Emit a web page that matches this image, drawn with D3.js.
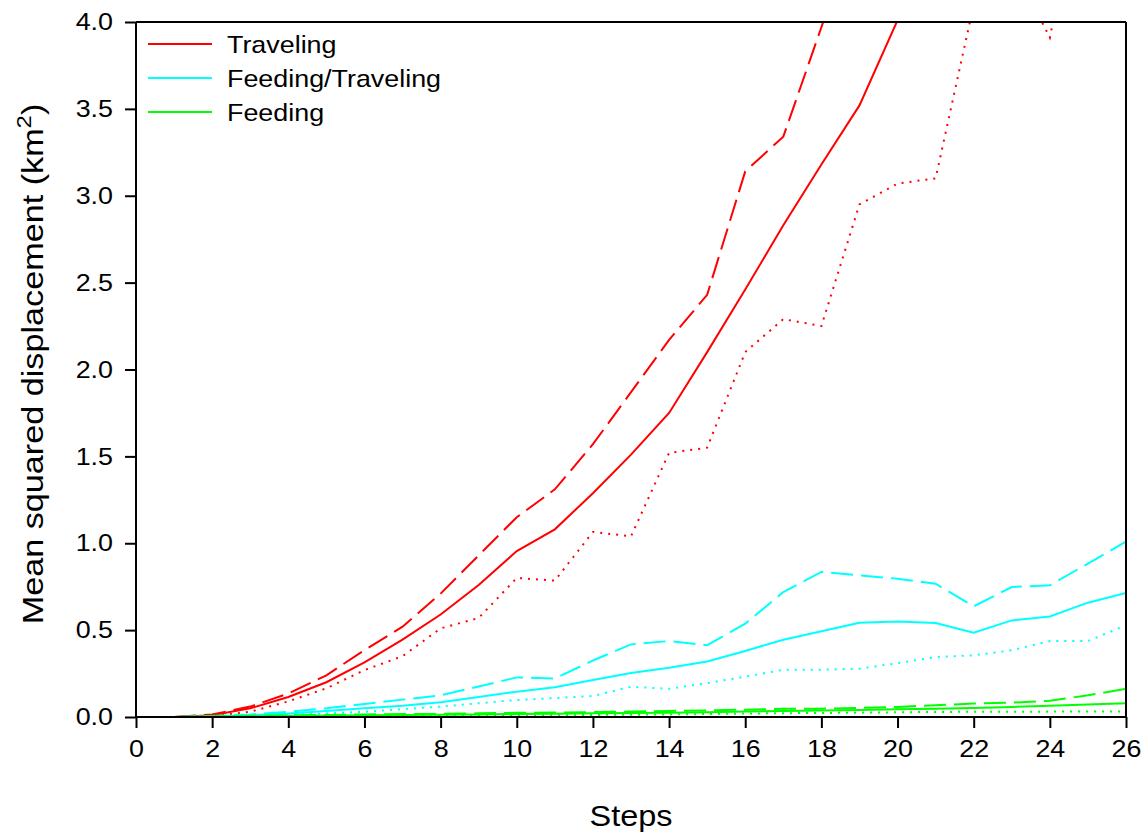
<!DOCTYPE html>
<html><head><meta charset="utf-8">
<script src="https://cdn.jsdelivr.net/npm/d3@7"></script>
<style>
body{margin:0;background:#fff;}
text{font-family:"Liberation Sans", Arial, sans-serif;fill:#000;}
</style></head>
<body><svg id="chart" width="1146" height="833"></svg>
<script>
// ---- data (steps 1..n) ----
const xTicks = [0,2,4,6,8,10,12,14,16,18,20,22,24,26];
const yTicks = [0,0.5,1,1.5,2,2.5,3,3.5,4];
const legendLabels = ["Traveling","Feeding/Traveling","Feeding"];
const seriesColors = ["#ff0000","#00ffff","#00ff00"];

const travelingMean  = [0,0.01,0.05,0.115,0.2,0.315,0.445,0.59,0.76,0.955,1.08,1.288,1.51,1.75,2.1,2.46,2.83,3.18,3.52,4.01];
const travelingUpper = [0,0.015,0.06,0.135,0.24,0.385,0.52,0.71,0.93,1.15,1.31,1.57,1.87,2.17,2.43,3.14,3.34,3.97,4.6];
const travelingLower = [0,0.005,0.03,0.09,0.165,0.27,0.35,0.51,0.57,0.8,0.785,1.065,1.04,1.52,1.55,2.1,2.29,2.25,2.95,3.07,3.1,4.1,4.34,3.91,5.0];

const ftMean  = [0,0.004,0.01,0.02,0.035,0.05,0.065,0.085,0.115,0.146,0.171,0.213,0.253,0.284,0.32,0.38,0.445,0.493,0.543,0.549,0.541,0.485,0.556,0.579,0.658,0.714];
const ftUpper = [0,0.006,0.015,0.03,0.05,0.075,0.1,0.125,0.175,0.228,0.222,0.325,0.418,0.437,0.413,0.537,0.719,0.835,0.815,0.796,0.767,0.637,0.748,0.758,0.883,1.01];
const ftLower = [0,0.002,0.006,0.012,0.02,0.03,0.045,0.06,0.079,0.098,0.109,0.121,0.174,0.162,0.195,0.232,0.272,0.272,0.278,0.31,0.345,0.355,0.384,0.437,0.437,0.528];

const feedMean  = [0,0.002,0.004,0.006,0.008,0.01,0.012,0.013,0.015,0.017,0.019,0.021,0.023,0.025,0.028,0.032,0.035,0.038,0.041,0.044,0.048,0.052,0.058,0.065,0.072,0.079];
const feedUpper = [0,0.003,0.006,0.01,0.012,0.015,0.017,0.018,0.021,0.024,0.026,0.028,0.031,0.035,0.038,0.042,0.047,0.048,0.052,0.058,0.068,0.077,0.083,0.093,0.125,0.162];
const feedLower = [0,0.001,0.002,0.003,0.004,0.005,0.006,0.008,0.009,0.01,0.011,0.012,0.013,0.015,0.017,0.02,0.022,0.023,0.025,0.027,0.029,0.03,0.03,0.031,0.031,0.031];

// ---- layout ----
const L = 136, R = 1126, T = 22, B = 717;
const SX = 1.12; // horizontal widening of glyphs
const svg = d3.select("#chart");
const x = d3.scaleLinear().domain([0,26]).range([L,R]);
const y = d3.scaleLinear().domain([0,4]).range([B,T]);

svg.append("defs").append("clipPath").attr("id","clip")
  .append("rect").attr("x",L).attr("y",T).attr("width",R-L).attr("height",B-T);

const series = [
  {v:travelingMean, c:0, dash:null},
  {v:travelingUpper, c:0, dash:"22,8"},
  {v:travelingLower, c:0, dash:"2,6"},
  {v:ftMean, c:1, dash:null},
  {v:ftUpper, c:1, dash:"22,8"},
  {v:ftLower, c:1, dash:"2,6"},
  {v:feedMean, c:2, dash:null},
  {v:feedUpper, c:2, dash:"22,8"},
  {v:feedLower, c:2, dash:"2,6"}
];
const line = d3.line().x((d,i)=>x(i+1)).y(d=>y(d));
const g = svg.append("g").attr("clip-path","url(#clip)");
series.forEach(s=>{
  g.append("path").datum(s.v).attr("d",line)
    .attr("fill","none").attr("stroke",seriesColors[s.c]).attr("stroke-width",2)
    .attr("stroke-dasharray",s.dash).attr("stroke-linejoin","miter");
});

// ---- axes ----
const xAxis = svg.append("g").attr("transform",`translate(0,${B})`)
  .call(d3.axisBottom(x).tickValues(xTicks).tickSize(11).tickPadding(12).tickFormat(d3.format("d")));
const yAxis = svg.append("g").attr("transform",`translate(${L},0)`)
  .call(d3.axisLeft(y).tickValues(yTicks).tickSize(11).tickPadding(12).tickFormat(d3.format(".1f")));
[xAxis,yAxis].forEach(a=>{
  a.select(".domain").attr("stroke","#000").attr("stroke-width",2);
  a.selectAll(".tick line").attr("stroke","#000").attr("stroke-width",2);
  a.selectAll(".tick text").attr("font-size",24).attr("fill","#000")
    .attr("font-family","'Liberation Sans', Arial, sans-serif");
});
xAxis.select(".domain").attr("d",`M${L},0H${R}`);
yAxis.select(".domain").attr("d",`M0,${B}V${T}`);
// widen tick labels
xAxis.selectAll(".tick text").attr("transform",`scale(${SX},1)`);
yAxis.selectAll(".tick text").each(function(){
  const t = d3.select(this); const xx = +t.attr("x");
  t.attr("transform",`translate(${xx},0) scale(${SX},1) translate(${-xx},0)`);
});
// frame top/right
svg.append("line").attr("x1",L).attr("x2",R).attr("y1",T).attr("y2",T).attr("stroke","#000").attr("stroke-width",2);
svg.append("line").attr("x1",R).attr("x2",R).attr("y1",T).attr("y2",B).attr("stroke","#000").attr("stroke-width",2);

// ---- axis titles ----
svg.append("text").attr("transform",`translate(631,826) scale(${SX},1)`)
  .attr("text-anchor","middle").attr("font-size",29).text("Steps");
const yt = svg.append("text").attr("transform",`translate(43,364) rotate(-90) scale(1.14,1)`)
  .attr("text-anchor","middle").attr("font-size",30);
yt.append("tspan").text("Mean squared displacement (km");
yt.append("tspan").attr("font-size",21).attr("dy",-12).text("2");
yt.append("tspan").attr("dy",12).text(")");

// ---- legend ----
legendLabels.forEach((lab,i)=>{
  const ly = 44 + i*34;
  svg.append("line").attr("x1",148).attr("x2",212).attr("y1",ly).attr("y2",ly)
    .attr("stroke",seriesColors[i]).attr("stroke-width",2);
  svg.append("text").attr("transform",`translate(227,${ly+9}) scale(${SX},1)`)
    .attr("font-size",24).text(lab);
});
</script></body></html>
